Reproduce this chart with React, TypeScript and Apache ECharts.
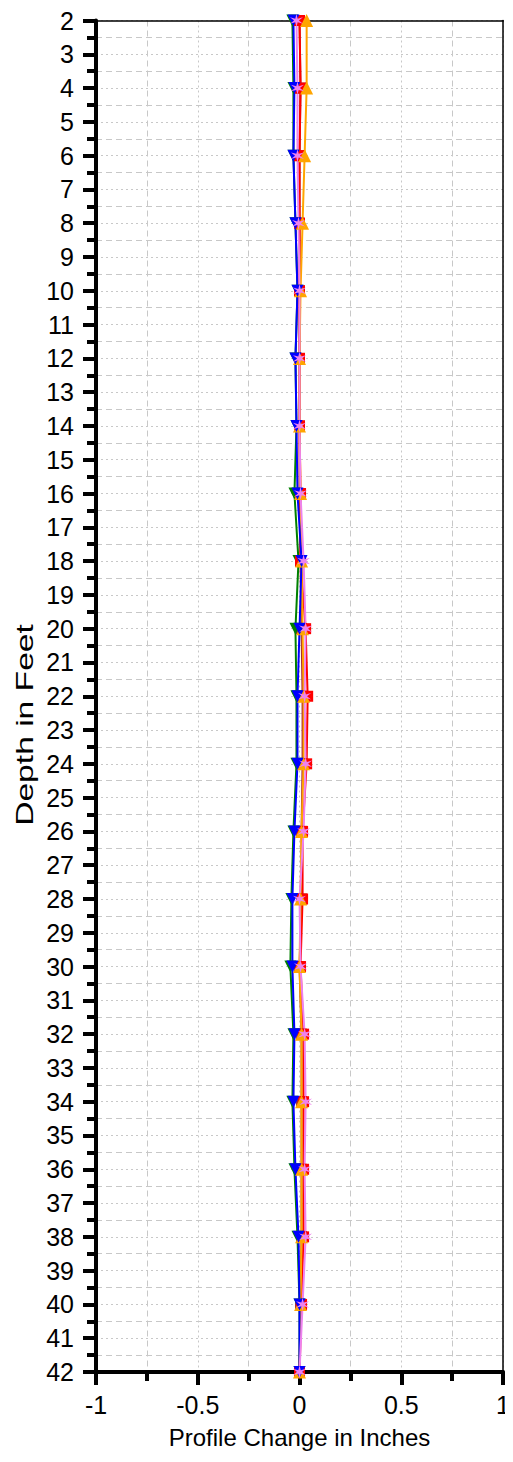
import React, { useEffect, useRef } from "react";
import * as echarts from "echarts";

const depths = [2, 4, 6, 8, 10, 12, 14, 16, 18, 20, 22, 24, 26, 28, 30, 32, 34, 36, 38, 40, 42];

const brownVals = [0.0, 0.005, 0.0, 0.0, 0.0, 0.0, 0.0, 0.0, 0.005, 0.01, 0.015, 0.015, 0.01, 0.01, 0.0, 0.01, 0.01, 0.01, 0.01, 0.005, 0.0];
const greenVals = [-0.035, -0.03, -0.03, -0.02, -0.01, -0.02, -0.015, -0.025, -0.005, -0.02, -0.015, -0.015, -0.03, -0.04, -0.045, -0.03, -0.035, -0.025, -0.01, 0.0, 0.0];
const redVals = [0.0, 0.005, 0.0, 0.0, 0.0, 0.0, 0.0, 0.005, 0.005, 0.03, 0.04, 0.035, 0.015, 0.015, 0.005, 0.02, 0.02, 0.02, 0.02, 0.01, 0.0];
const orangeVals = [0.035, 0.035, 0.025, 0.015, 0.005, 0.0, 0.0, 0.005, 0.01, 0.015, 0.02, 0.02, 0.01, 0.005, 0.0, 0.01, 0.01, 0.01, 0.01, 0.005, 0.0];
const blueVals = [-0.03, -0.025, -0.03, -0.02, -0.01, -0.02, -0.015, -0.01, 0.01, 0.0, -0.01, -0.01, -0.025, -0.035, -0.035, -0.025, -0.03, -0.02, -0.005, 0.0, 0.0];
const violetVals = [-0.015, -0.01, -0.01, -0.005, 0.0, 0.0, 0.0, 0.005, 0.02, 0.03, 0.025, 0.03, 0.02, 0.0, 0.005, 0.025, 0.03, 0.025, 0.03, 0.015, 0.0];

const starPath =
  "path://M50,0 L58,36 L93,25 L66,50 L93,75 L58,64 L50,100 L42,64 L7,75 L34,50 L7,25 L42,36 Z";

const seriesDefs = [
  { name: "S1", vals: brownVals, color: "#a52a2a", symbol: "rect", size: 11 },
  { name: "S2", vals: greenVals, color: "#008000", symbol: "triangle", rotate: 180, size: 12 },
  { name: "S3", vals: redVals, color: "#ff0000", symbol: "rect", size: 11 },
  { name: "S4", vals: orangeVals, color: "#ffa500", symbol: "triangle", size: 13 },
  { name: "S5", vals: blueVals, color: "#0000ff", symbol: "triangle", rotate: 180, size: 12 },
  { name: "S6", vals: violetVals, color: "#ee82ee", symbol: starPath, size: 13 },
];

export default function App() {
  const ref = useRef<HTMLDivElement>(null);
  useEffect(() => {
    if (!ref.current) return;
    const chart = echarts.init(ref.current, undefined, { renderer: "svg" });
    const font = "Arial, 'Liberation Sans', sans-serif";
    const grid = { color: "#c8c8c8", width: 1 };
    chart.setOption({
      animation: false,
      backgroundColor: "#ffffff",
      grid: { left: 88, right: 3, top: 8, bottom: 76, containLabel: false },
      graphic: [
        {
          type: "text",
          x: 17,
          y: 717,
          rotation: Math.PI / 2,
          scaleX: 1.4,
          style: {
            text: "Depth in Feet",
            fontFamily: font,
            fontSize: 24,
            fill: "#000",
            align: "center",
            verticalAlign: "middle",
          },
        },
      ],
      xAxis: [
        {
          type: "value",
          min: -1,
          max: 1,
          interval: 0.5,
          position: "bottom",
          name: "Profile Change in Inches",
          nameLocation: "middle",
          nameGap: 53,
          nameTextStyle: { fontFamily: font, fontSize: 24, color: "#000" },
          axisLine: { show: true, onZero: false, lineStyle: { color: "#000", width: 4 } },
          axisTick: { show: true, inside: false, length: 13, lineStyle: { color: "#000", width: 4 } },
          minorTick: { show: true, splitNumber: 2, length: 9, lineStyle: { color: "#000", width: 4 } },
          axisLabel: { fontFamily: font, fontSize: 25, color: "#000", margin: 20 },
          splitLine: { show: true, lineStyle: { ...grid, type: [2, 3] } },
          minorSplitLine: { show: true, lineStyle: { ...grid, type: [6, 4] } },
        },
        {
          type: "value",
          min: -1,
          max: 1,
          position: "top",
          axisLine: { show: true, onZero: false, lineStyle: { color: "#000", width: 1.5 } },
          axisTick: { show: false },
          axisLabel: { show: false },
          splitLine: { show: false },
        },
      ],
      yAxis: [
        {
          type: "value",
          inverse: true,
          min: 2,
          max: 42,
          interval: 1,
          position: "left",
          axisLine: { show: true, onZero: false, lineStyle: { color: "#000", width: 4 } },
          axisTick: { show: true, inside: false, length: 13, lineStyle: { color: "#000", width: 4 } },
          minorTick: { show: true, splitNumber: 2, length: 9, lineStyle: { color: "#000", width: 4 } },
          axisLabel: { fontFamily: font, fontSize: 25, color: "#000", margin: 22 },
          splitLine: { show: true, lineStyle: { ...grid, type: [2, 3] } },
          minorSplitLine: { show: true, lineStyle: { ...grid, type: [6, 4] } },
        },
        {
          type: "value",
          inverse: true,
          min: 2,
          max: 42,
          position: "right",
          axisLine: { show: true, onZero: false, lineStyle: { color: "#000", width: 1.5 } },
          axisTick: { show: false },
          axisLabel: { show: false },
          splitLine: { show: false },
        },
      ],
      series: seriesDefs.map((s) => ({
        name: s.name,
        type: "line",
        xAxisIndex: 0,
        yAxisIndex: 0,
        data: depths.map((d, i) => [s.vals[i], d]),
        symbol: s.symbol,
        symbolSize: s.size,
        symbolRotate: s.rotate || 0,
        showAllSymbol: true,
        lineStyle: { color: s.color, width: 2 },
        itemStyle: { color: s.color },
      })),
    });
    return () => chart.dispose();
  }, []);
  return <div ref={ref} style={{ width: 505, height: 1446 }} />;
}
